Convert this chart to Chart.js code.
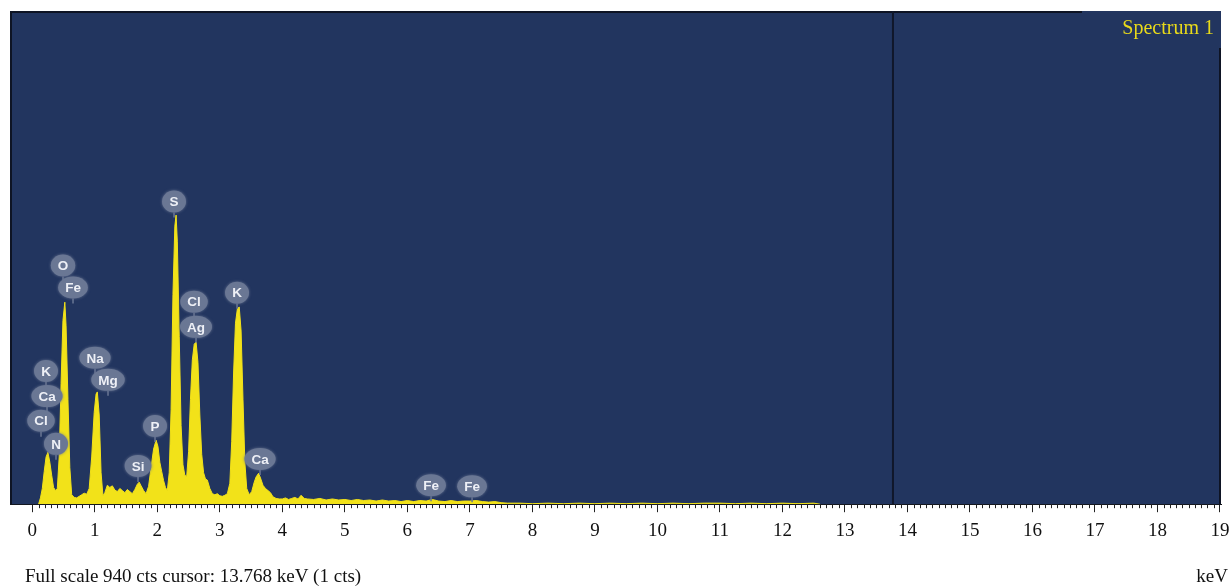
<!DOCTYPE html>
<html>
<head>
<meta charset="utf-8">
<script src="https://cdn.jsdelivr.net/npm/chart.js@4.4.1/dist/chart.umd.min.js"></script>
<style>
html,body{margin:0;padding:0;background:#ffffff;}
canvas{display:block;}
</style>
</head>
<body>
<canvas id="c" width="1231" height="586"></canvas>
<script>
// ---- data ----
const energies = [0.10,0.13,0.16,0.19,0.22,0.25,0.28,0.31,0.34,0.37,0.40,0.43,0.46,0.49,0.52,0.54,0.57,0.60,0.63,0.67,
0.71,0.75,0.79,0.83,0.87,0.91,0.95,0.99,1.02,1.04,1.07,1.10,1.13,1.16,1.20,1.24,1.28,1.32,1.36,1.40,
1.44,1.48,1.52,1.56,1.60,1.64,1.68,1.71,1.74,1.78,1.82,1.86,1.90,1.94,1.98,2.01,2.04,2.07,2.10,2.13,
2.16,2.19,2.22,2.25,2.28,2.30,2.32,2.35,2.38,2.41,2.44,2.47,2.50,2.53,2.56,2.59,2.62,2.65,2.68,2.71,
2.74,2.77,2.80,2.84,2.88,2.92,2.96,3.00,3.04,3.08,3.12,3.16,3.19,3.22,3.25,3.28,3.31,3.34,3.37,3.40,
3.43,3.47,3.51,3.55,3.58,3.62,3.65,3.69,3.73,3.77,3.81,3.85,3.90,3.95,4.00,4.05,4.10,4.15,4.20,4.25,
4.30,4.35,4.40,4.50,4.60,4.70,4.80,4.90,5.00,5.10,5.20,5.30,5.40,5.50,5.60,5.70,5.80,5.90,6.00,6.10,
6.20,6.30,6.40,6.50,6.60,6.70,6.80,6.90,7.00,7.10,7.20,7.30,7.40,7.50,7.60,7.80,8.00,8.25,8.50,8.75,
9.00,9.25,9.50,9.75,10.00,10.25,10.50,10.75,11.00,11.25,11.50,11.75,12.00,12.25,12.50,12.60];
const counts = [0,12,30,62,90,99,80,55,32,26,30,90,230,350,385,340,200,70,18,13,
12,15,18,21,19,30,90,175,210,214,170,60,16,22,36,32,35,27,24,30,
26,22,28,24,20,28,38,42,35,26,20,34,70,105,122,110,80,62,45,32,
26,60,180,400,530,551,500,320,150,75,55,53,100,200,275,305,309,270,170,95,
60,48,46,30,20,18,20,16,15,17,20,40,120,250,345,372,376,330,200,80,
30,18,24,42,52,59,50,36,30,26,22,14,11,10,10,12,9,11,13,10,
17,11,10,9,11,8,10,8,9,7,9,7,8,6,8,6,7,5,7,5,
7,6,9,6,5,7,5,6,6,7,5,4,5,3,2,2,1,2,1,2,
1,2,1,2,1,2,1,2,2,1,2,1,2,1,2,0];

const peakLabels   = ['S','O','Fe','Cl','Ag','K','Na','Mg','K','Ca','Cl','N','P','Si','Ca','Fe','Fe'];
const peakEnergies = [2.267,0.491,0.651,2.587,2.619,3.275,1.003,1.211,0.219,0.235,0.139,0.379,1.963,1.691,3.643,6.379,7.035];
const peakCounts   = [577,455,413,386,338,403,279,237,254,206,159,115,149,73,86,36,34];

const tickValues = [0,1,2,3,4,5,6,7,8,9,10,11,12,13,14,15,16,17,18,19];
const fullScale = 940;
const cursorKeV = 13.768;
const cursorCts = 1;
const spectrumName = 'Spectrum 1';
const axisUnit = 'keV';

// ---- styles ----
const BG = '#22355f';
const YEL = '#f2e219';
const SERIF = '"Liberation Serif", "Times New Roman", serif';

const points = energies.map((e, i) => ({x: e, y: counts[i]}));

const decor = {
  id: 'decor',
  beforeDatasetsDraw(chart) {
    const {ctx, chartArea: a} = chart;
    ctx.save();
    ctx.fillStyle = BG;
    ctx.fillRect(a.left, a.top, a.right - a.left, a.bottom - a.top);
    ctx.restore();
  },
  afterDatasetsDraw(chart) {
    const {ctx, chartArea: a, scales} = chart;
    const xs = scales.x, ys = scales.y;
    ctx.save();
    // frame
    ctx.strokeStyle = '#0e1424';
    ctx.lineWidth = 2;
    ctx.beginPath();
    ctx.moveTo(a.left + 1, a.bottom);
    ctx.lineTo(a.left + 1, a.top + 1);
    ctx.lineTo(1082, a.top + 1);
    ctx.moveTo(a.right - 1, 48);
    ctx.lineTo(a.right - 1, a.bottom);
    ctx.stroke();
    // cursor
    const cx = xs.getPixelForValue(cursorKeV);
    ctx.strokeStyle = '#10172a';
    ctx.lineWidth = 2;
    ctx.beginPath();
    ctx.moveTo(cx, a.top);
    ctx.lineTo(cx, a.bottom);
    ctx.stroke();
    // peak badges
    ctx.font = 'bold 13.5px "Liberation Sans", Arial, sans-serif';
    ctx.textAlign = 'center';
    ctx.textBaseline = 'middle';
    peakLabels.forEach((lab, i) => {
      const px = xs.getPixelForValue(peakEnergies[i]);
      const py = ys.getPixelForValue(peakCounts[i]);
      const tw = ctx.measureText(lab).width;
      const w = Math.max(24, tw + 14), h = 22;
      ctx.fillStyle = '#6a7794';
      ctx.strokeStyle = '#6a7794';
      ctx.lineWidth = 1.5;
      ctx.beginPath();
      ctx.moveTo(px, py + h / 2);
      ctx.lineTo(px, py + h / 2 + 5);
      ctx.stroke();
      ctx.shadowColor = 'rgba(106,119,148,0.9)';
      ctx.shadowBlur = 3;
      ctx.beginPath();
      ctx.ellipse(px, py, w / 2, h / 2, 0, 0, Math.PI * 2);
      ctx.fill();
      ctx.shadowBlur = 0;
      ctx.fillStyle = '#eef0f6';
      ctx.fillText(lab, px, py + 1);
    });
    // spectrum name
    ctx.font = '20px ' + SERIF;
    ctx.fillStyle = '#e8da1a';
    ctx.textAlign = 'right';
    ctx.textBaseline = 'alphabetic';
    ctx.fillText(spectrumName, 1214, 34);
    ctx.restore();
  },
  afterDraw(chart) {
    const {ctx, chartArea: a, scales} = chart;
    const xs = scales.x;
    ctx.save();
    // minor ticks every 0.1 keV
    ctx.strokeStyle = '#222';
    ctx.lineWidth = 1;
    ctx.beginPath();
    for (let k = 0; k <= 190; k++) {
      if (k % 10 === 0) continue;
      const x = Math.round(xs.getPixelForValue(k / 10)) + 0.5;
      ctx.moveTo(x, a.bottom);
      ctx.lineTo(x, a.bottom + 4);
    }
    ctx.stroke();
    // bottom texts
    ctx.font = '19px ' + SERIF;
    ctx.fillStyle = '#111';
    ctx.textBaseline = 'alphabetic';
    ctx.textAlign = 'left';
    ctx.fillText('Full scale ' + fullScale + ' cts cursor: ' + cursorKeV.toFixed(3) + ' keV (' + cursorCts + ' cts)', 25, 582);
    ctx.textAlign = 'right';
    ctx.fillText(axisUnit, 1228, 582);
    ctx.restore();
  }
};

new Chart(document.getElementById('c'), {
  type: 'line',
  data: {
    datasets: [{
      data: points,
      borderColor: YEL,
      backgroundColor: YEL,
      borderWidth: 1,
      fill: 'origin',
      pointRadius: 0,
      tension: 0
    }]
  },
  options: {
    responsive: false,
    animation: false,
    events: [],
    layout: {padding: {left: 10, right: 10, top: 11, bottom: 37}},
    plugins: {legend: {display: false}, tooltip: {enabled: false}},
    scales: {
      x: {
        type: 'linear',
        min: -0.357,
        max: 19.016,
        afterBuildTicks: axis => { axis.ticks = tickValues.map(v => ({value: v})); },
        afterFit: scale => { scale.paddingLeft = 0; scale.paddingRight = 0; },
        ticks: {
          font: {family: SERIF, size: 19},
          color: '#111',
          padding: 7,
          maxRotation: 0,
          autoSkip: false,
          callback: v => String(v)
        },
        grid: {drawOnChartArea: false, color: '#222', tickLength: 8, lineWidth: 1},
        border: {display: true, color: '#111', width: 1}
      },
      y: {
        display: false,
        min: 0,
        max: fullScale
      }
    }
  },
  plugins: [decor]
});
</script>
</body>
</html>
